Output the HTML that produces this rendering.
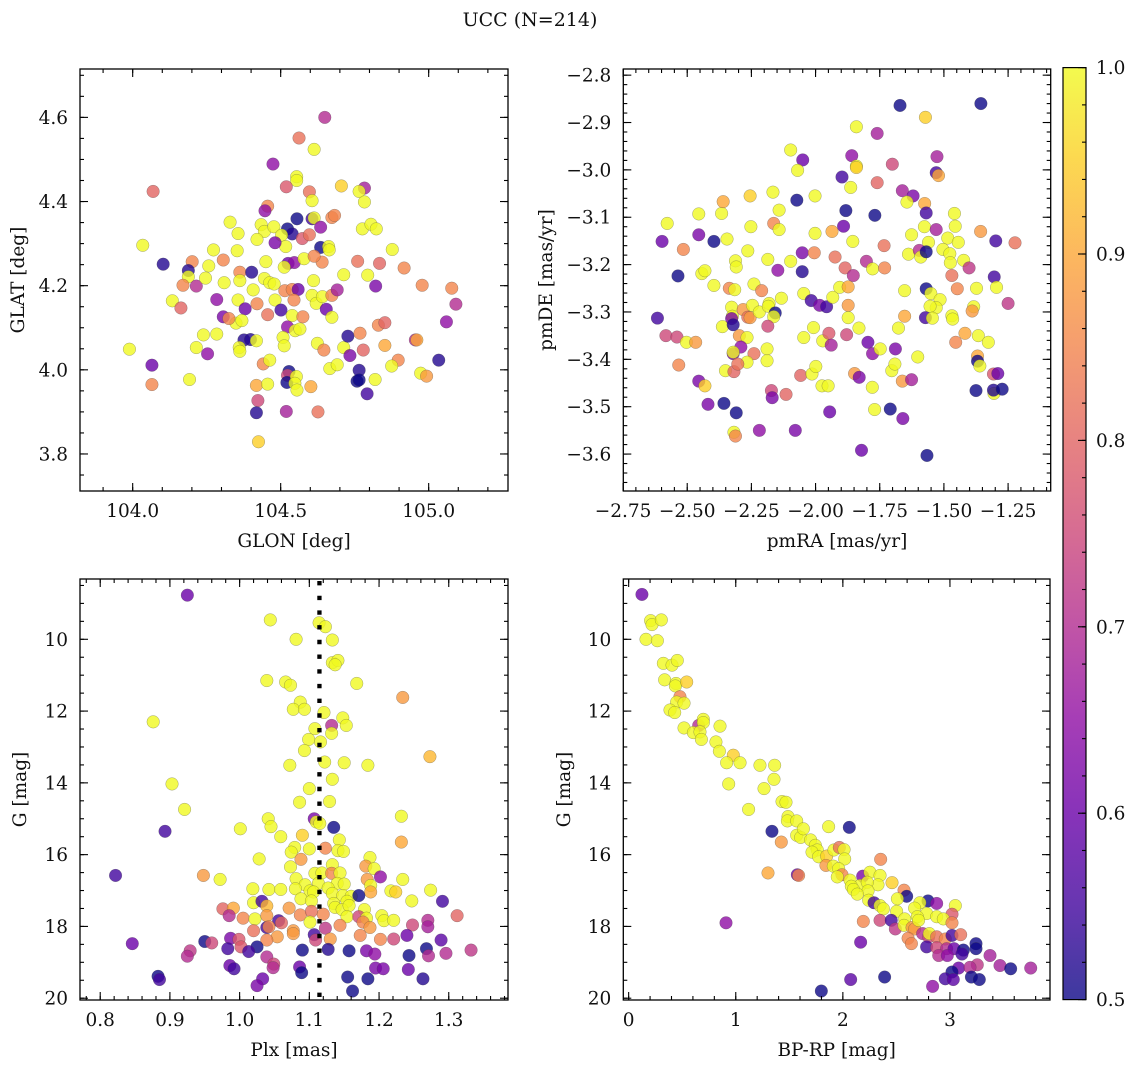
<!DOCTYPE html>
<html><head><meta charset="utf-8"><title>UCC (N=214)</title>
<style>
html,body{margin:0;padding:0;background:#fff;}
svg{display:block;}
text{font-family:"DejaVu Serif","Liberation Serif",serif;fill:#111;}
</style></head>
<body>
<svg id="fig" width="1136" height="1067" viewBox="0 0 1136 1067" xmlns="http://www.w3.org/2000/svg">
<defs>
<linearGradient id="plasmaGrad" x1="0" y1="1" x2="0" y2="0">
<stop offset="0" stop-color="#0d0887"/><stop offset="0.1" stop-color="#41049d"/><stop offset="0.2" stop-color="#6a00a8"/><stop offset="0.3" stop-color="#8f0da4"/><stop offset="0.4" stop-color="#b12a90"/><stop offset="0.5" stop-color="#cc4778"/><stop offset="0.6" stop-color="#e16462"/><stop offset="0.7" stop-color="#f2844b"/><stop offset="0.8" stop-color="#fca636"/><stop offset="0.9" stop-color="#fcce25"/><stop offset="1" stop-color="#f0f921"/>
</linearGradient>
</defs>
<text x="530" y="26" font-size="19" text-anchor="middle">UCC (N=214)</text>
</svg>
<script>
// ---- Panel 1: GLON / GLAT ----
const p1Lon=[104.649,104.562,104.613,104.474,104.554,104.554,104.069,104.519,104.597,104.705,
104.783,104.765,104.606,104.783,104.456,104.447,104.329,104.555,104.606,104.613,
104.434,104.445,104.477,104.356,104.420,104.635,104.673,104.682,104.776,104.805,
104.823,104.523,104.539,104.503,104.517,104.573,104.597,104.034,104.273,104.353,
104.481,104.635,104.662,104.664,104.877,104.103,104.201,104.188,104.257,104.306,
104.450,104.525,104.546,104.579,104.640,104.613,104.760,104.834,104.917,104.188,
104.215,104.170,104.246,104.309,104.362,104.402,104.362,104.445,104.463,104.478,
104.512,104.611,104.713,104.794,104.821,104.978,105.078,105.092,105.060,104.134,
104.163,104.284,104.306,104.356,104.380,104.407,104.420,104.456,104.481,104.501,
104.514,104.539,104.559,104.545,104.606,104.620,104.641,104.654,104.673,104.691,
104.673,104.349,104.369,104.325,104.539,104.575,104.523,104.549,104.565,104.239,
104.284,104.376,104.398,104.418,104.360,104.362,104.215,104.253,104.508,104.512,
104.624,104.646,104.713,104.727,104.734,104.768,104.779,104.830,104.852,104.852,
104.955,104.960,104.897,104.875,105.034,103.989,104.065,104.065,104.192,104.441,
104.463,104.528,104.523,104.521,104.553,104.548,104.555,104.418,104.456,104.602,
104.666,104.691,104.765,104.758,104.765,104.819,104.792,104.973,104.993,104.423,
104.418,104.519,104.626,104.425];
const p1Lat=[4.600,4.551,4.524,4.489,4.459,4.450,4.424,4.435,4.423,4.437,
4.432,4.424,4.402,4.399,4.389,4.378,4.351,4.359,4.359,4.361,
4.345,4.329,4.340,4.324,4.310,4.339,4.362,4.367,4.335,4.346,
4.335,4.335,4.323,4.320,4.293,4.312,4.321,4.296,4.285,4.283,
4.302,4.291,4.293,4.285,4.286,4.251,4.257,4.236,4.247,4.261,
4.257,4.253,4.255,4.264,4.256,4.270,4.258,4.253,4.242,4.221,
4.199,4.201,4.218,4.207,4.232,4.232,4.212,4.217,4.207,4.204,
4.244,4.212,4.226,4.225,4.199,4.201,4.194,4.156,4.114,4.164,
4.147,4.167,4.126,4.166,4.145,4.190,4.157,4.131,4.166,4.142,
4.188,4.191,4.191,4.166,4.177,4.158,4.174,4.144,4.177,4.190,
4.125,4.111,4.117,4.122,4.129,4.126,4.102,4.093,4.097,4.083,
4.085,4.071,4.072,4.069,4.053,4.044,4.053,4.038,4.077,4.057,
4.063,4.047,4.053,4.080,4.034,4.087,4.047,4.106,4.112,4.058,
4.071,4.071,4.023,4.009,4.023,4.049,4.011,3.965,3.977,4.014,
4.023,3.996,3.987,3.970,3.984,3.968,3.952,3.963,3.966,3.960,
4.003,4.012,3.999,3.973,3.976,3.977,3.943,3.992,3.985,3.927,
3.898,3.901,3.900,3.829];
const p1Prob=[.7,.82,1,.65,1,1,.8,.78,.82,.95,
.68,1,1,1,.85,.65,1,.5,.55,1,
1,1,1,1,1,.65,.85,.85,1,1,
1,.5,.52,1,1,.78,.82,1,1,1,
.62,.5,1,1,1,.52,.85,.52,1,.85,
1,.6,.65,1,.85,.85,.82,.8,.85,1,
.7,.85,1,1,.85,.52,1,1,1,1,
1,1,1,1,.62,.85,.85,.7,.65,1,
.8,.65,.62,1,.6,1,.85,.82,1,.55,
.85,.85,.6,.85,1,1,1,.6,.85,.68,
1,1,1,.85,1,.85,.65,1,1,1,
1,.52,.52,1,1,1,1,.65,1,1,
1,.85,1,.52,.62,.85,.8,.85,.8,.9,
.7,.9,.85,1,.52,1,.6,.85,1,.85,
1,.5,.75,.5,1,1,1,.9,1,.9,
1,1,.52,.5,.5,1,.55,1,.88,.75,
.52,.68,.82,.95];

// ---- Panel 2: pmRA / pmDE ----
const p2PmRA=[-1.671,-1.356,-1.572,-1.841,-1.760,-2.097,-2.050,-1.859,-1.701,-1.527,
-2.070,-1.841,-1.841,-1.530,-1.521,-1.897,-1.760,-1.863,-1.662,-1.620,
-1.644,-1.575,-1.569,-2.366,-2.360,-2.255,-2.166,-2.142,-2.073,-2.002,
-1.882,-1.769,-2.455,-2.578,-2.598,-2.455,-2.396,-2.515,-2.345,-2.252,
-2.163,-2.142,-2.002,-1.936,-1.891,-1.855,-1.733,-1.626,-1.576,-1.530,
-1.560,-1.485,-1.456,-1.459,-1.444,-1.357,-1.298,-1.223,-2.264,-2.186,
-2.147,-2.097,-2.052,-2.052,-2.005,-1.924,-1.802,-1.778,-1.731,-1.885,
-1.853,-1.638,-1.596,-1.590,-1.569,-1.504,-1.477,-1.475,-1.423,-1.402,
-1.469,-1.448,-1.373,-1.304,-1.295,-1.250,-2.536,-2.443,-2.431,-2.396,
-2.336,-2.315,-2.312,-2.309,-2.240,-2.210,-2.181,-2.133,-2.046,-2.017,
-1.984,-1.957,-1.933,-1.906,-1.873,-1.873,-1.653,-1.569,-1.551,-1.515,
-1.530,-1.554,-1.384,-1.390,-2.616,-2.583,-2.540,-2.503,-2.467,-2.533,
-2.363,-2.327,-2.324,-2.327,-2.321,-2.282,-2.264,-2.255,-2.246,-2.219,
-2.184,-2.157,-2.163,-2.186,-2.297,-2.267,-2.291,-2.321,-2.321,-2.240,
-2.189,-2.189,-2.267,-2.351,-2.318,-2.303,-2.008,-2.046,-1.972,-1.948,
-1.939,-1.879,-1.831,-1.873,-1.796,-1.778,-1.748,-1.689,-1.677,-1.653,
-1.602,-1.572,-1.545,-1.469,-1.466,-1.454,-1.418,-1.366,-1.327,-1.369,
-1.369,-1.360,-1.307,-1.290,-1.305,-1.307,-1.273,-1.375,-2.455,-2.431,
-2.419,-2.357,-2.309,-2.318,-2.312,-2.219,-2.172,-2.169,-2.115,-2.058,
-2.014,-1.999,-1.975,-1.951,-2.079,-1.945,-1.848,-1.830,-1.779,-1.770,
-1.709,-1.703,-1.691,-1.662,-1.626,-1.660,-1.821,-1.566];
const p2PmDE=[-2.864,-2.860,-2.889,-2.909,-2.923,-2.958,-2.979,-2.970,-2.988,-2.972,
-3.001,-2.992,-2.995,-3.006,-3.012,-3.015,-3.027,-3.037,-3.044,-3.055,
-3.068,-3.071,-3.091,-3.092,-3.067,-3.055,-3.047,-3.085,-3.064,-3.055,
-3.086,-3.096,-3.093,-3.113,-3.151,-3.137,-3.151,-3.168,-3.146,-3.120,
-3.113,-3.126,-3.134,-3.130,-3.119,-3.151,-3.160,-3.137,-3.120,-3.126,
-3.153,-3.144,-3.119,-3.092,-3.153,-3.130,-3.150,-3.154,-3.171,-3.189,
-3.212,-3.193,-3.175,-3.215,-3.175,-3.184,-3.193,-3.209,-3.207,-3.207,
-3.223,-3.178,-3.170,-3.184,-3.173,-3.168,-3.177,-3.196,-3.191,-3.207,
-3.223,-3.251,-3.250,-3.226,-3.248,-3.282,-3.224,-3.219,-3.213,-3.244,
-3.250,-3.253,-3.192,-3.205,-3.241,-3.255,-3.282,-3.271,-3.261,-3.276,
-3.286,-3.289,-3.269,-3.248,-3.247,-3.286,-3.255,-3.251,-3.261,-3.274,
-3.291,-3.288,-3.289,-3.298,-3.313,-3.350,-3.353,-3.364,-3.364,-3.412,
-3.331,-3.290,-3.309,-3.314,-3.327,-3.295,-3.311,-3.312,-3.286,-3.300,
-3.288,-3.302,-3.310,-3.330,-3.350,-3.354,-3.374,-3.388,-3.385,-3.388,
-3.378,-3.403,-3.406,-3.424,-3.426,-3.410,-3.333,-3.354,-3.361,-3.345,
-3.370,-3.348,-3.334,-3.312,-3.364,-3.388,-3.378,-3.378,-3.334,-3.309,
-3.395,-3.312,-3.313,-3.308,-3.315,-3.364,-3.345,-3.350,-3.364,-3.393,
-3.404,-3.414,-3.431,-3.430,-3.472,-3.465,-3.463,-3.466,-3.446,-3.456,
-3.495,-3.493,-3.513,-3.554,-3.562,-3.550,-3.466,-3.481,-3.474,-3.434,
-3.431,-3.415,-3.456,-3.456,-3.550,-3.511,-3.430,-3.438,-3.459,-3.506,
-3.505,-3.424,-3.410,-3.446,-3.443,-3.525,-3.592,-3.603];
const p2Prob=[.5,.5,.95,1,.68,1,.6,.65,.75,.68,
1,1,.95,.55,.9,.55,.8,1,.68,.62,
1,.9,.55,1,.9,.95,1,1,.5,1,
.5,.5,1,1,.6,.62,.5,.85,1,1,
.85,1,1,.9,.6,1,.82,1,1,.68,
1,1,1,1,1,.88,.55,.82,1,1,
.65,1,.62,.52,.85,.82,.7,1,.85,.8,
.7,1,.7,1,.5,1,1,1,1,.72,
.82,.85,1,.55,1,.72,.5,1,1,1,
.85,1,1,1,1,.85,1,1,1,.55,
.62,.55,1,1,.9,.88,1,.5,1,1,
1,1,1,.88,.55,.75,.75,1,.88,.85,
1,1,1,.62,.52,.88,.82,.88,1,1,
1,.5,1,.75,.88,1,.65,.62,1,.82,
1,1,1,1,.8,.82,1,1,1,.78,
.68,.75,1,1,.6,.65,1,.62,1,.9,
1,.55,1,1,1,.85,.9,1,1,.9,
.5,1,.78,.6,1,.52,.5,.5,.62,.95,
.62,.5,.5,1,.85,.65,.75,.62,.8,.8,
1,1,1,1,.62,.6,.88,.62,1,1,
.5,1,1,.88,.68,.62,.6,.5];

// ---- Panel 3: Plx / G ----
const p3Plx=[0.925,1.044,1.114,1.123,1.081,1.133,1.133,1.141,1.137,1.039,
1.066,1.073,1.168,1.234,0.876,1.087,1.077,1.093,1.121,1.148,
1.153,1.132,1.132,1.108,1.116,1.099,1.093,1.122,1.072,1.150,
1.184,1.273,0.903,1.133,1.100,1.086,1.129,0.921,1.041,1.045,
1.107,1.110,1.115,1.232,1.001,1.135,0.893,1.059,1.090,1.143,
1.232,1.079,1.074,1.100,1.123,1.141,1.149,1.028,1.088,1.187,
1.181,1.073,1.133,1.193,0.822,0.948,0.972,1.108,1.118,1.132,
1.144,1.202,1.234,1.183,1.081,1.094,1.113,1.140,1.150,1.188,
1.019,1.042,1.059,1.080,1.101,1.106,1.127,1.133,1.148,1.160,
1.188,1.217,1.224,1.274,1.171,1.291,1.020,1.088,1.103,1.135,
1.154,1.247,1.032,1.039,1.137,1.147,1.157,0.976,0.991,1.071,
1.179,0.985,1.005,1.022,1.039,1.087,1.103,1.120,1.154,1.171,
1.182,1.204,1.207,1.221,1.312,1.177,1.101,1.056,1.060,1.039,
1.042,1.123,1.144,1.187,1.248,1.270,1.270,1.020,1.077,1.077,
1.054,1.173,1.107,1.109,1.130,1.039,1.202,1.221,1.240,1.289,
0.846,0.950,0.960,0.987,0.999,1.002,1.025,0.983,1.013,1.090,
1.127,1.157,1.182,1.194,1.268,1.243,1.271,1.296,1.332,0.929,
0.925,1.039,1.049,1.048,0.986,0.992,1.086,1.089,1.195,1.206,
1.242,1.155,1.184,1.263,0.883,0.885,1.033,1.025,1.162];
const p3G=[8.77,9.46,9.54,9.65,10.0,10.02,10.65,10.59,10.71,11.15,
11.19,11.28,11.23,11.62,12.30,11.75,11.95,11.95,12.04,12.19,
12.40,12.40,12.62,12.49,12.86,12.79,13.10,13.42,13.51,13.44,
13.51,13.27,14.03,13.90,14.16,14.54,14.52,14.74,15.00,15.22,
15.00,15.09,15.13,14.93,15.28,15.24,15.35,15.50,15.46,15.59,
15.65,15.80,15.93,15.84,15.82,15.89,15.91,16.12,16.13,16.08,
16.32,16.34,16.28,16.39,16.58,16.58,16.69,16.52,16.51,16.52,
16.51,16.62,16.69,16.69,16.67,16.84,16.80,16.80,16.82,16.86,
16.95,16.97,16.97,16.95,17.01,17.04,16.93,17.08,17.14,17.16,
17.04,17.01,17.04,16.99,17.14,17.30,17.34,17.23,17.29,17.36,
17.30,17.29,17.30,17.43,17.47,17.53,17.42,17.51,17.49,17.49,
17.53,17.70,17.77,17.79,17.70,17.68,17.58,17.66,17.73,17.73,
17.77,17.70,17.84,17.83,17.70,17.88,17.88,17.84,17.90,18.03,
18.01,18.05,17.97,18.03,17.96,17.83,18.01,18.12,18.12,18.20,
18.29,18.25,18.23,18.38,18.35,18.38,18.36,18.35,18.25,18.38,
18.48,18.42,18.46,18.33,18.36,18.57,18.57,18.62,18.70,18.66,
18.64,18.68,18.68,18.77,18.62,18.81,18.82,18.75,18.66,18.68,
18.83,18.85,19.05,19.15,19.09,19.18,19.13,19.29,19.16,19.18,
19.20,19.41,19.46,19.46,19.39,19.48,19.46,19.65,19.80];
const p3Prob=[.6,1,1,1,1,1,1,1,1,1,
1,1,1,.88,1,1,1,1,1,1,
1,.7,1,1,1,1,1,1,1,1,
1,.92,1,1,1,1,1,1,1,1,
.62,1,1,1,1,.5,.55,1,.95,1,
.9,1,1,1,.85,1,1,1,.88,1,
.88,1,1,1,.55,.88,1,1,1,.85,
1,.65,1,.88,1,1,1,1,1,1,
1,1,1,1,1,1,1,1,1,1,
.9,1,.95,1,.5,.55,1,1,1,1,
1,1,.55,.92,1,1,1,.8,.9,.88,
1,.7,.85,1,.88,.85,.82,.85,1,.75,
1,1,1,1,.8,.85,1,.55,.8,.55,
.85,.72,.85,.88,.75,.7,.68,.82,.88,.88,
.88,.85,.55,.75,.88,.85,.85,.75,.6,.58,
.6,.5,.75,.62,.78,.78,.5,.55,.55,.5,
.52,.5,.62,.65,.5,.5,.7,.7,.72,.72,
.7,.7,.75,.7,.6,.55,.6,.5,.62,.62,
.6,.5,.5,.52,.5,.55,.6,.62,.5];
const p3PlxLine=[1.1145];

// ---- Panel 4: BP-RP / G ----
const p4BPRP=[0.124,0.205,0.218,0.305,0.162,0.268,0.324,0.405,0.454,0.336,
0.442,0.436,0.542,0.479,0.448,0.517,0.386,0.430,0.654,0.697,
0.697,0.517,0.604,0.666,0.679,0.815,0.853,0.847,0.977,0.915,
1.040,0.934,1.226,1.363,1.264,1.357,1.120,1.432,1.469,1.488,
1.482,1.569,1.338,1.425,1.867,2.060,1.569,1.606,1.631,1.699,
1.743,1.761,1.712,1.774,1.849,1.842,1.917,1.967,2.011,2.017,
1.911,1.961,1.992,1.948,2.353,1.301,1.575,1.587,2.185,2.067,
2.253,2.347,2.160,2.079,2.328,2.228,2.459,2.098,2.235,2.135,
2.571,2.596,2.241,2.291,2.509,2.795,2.876,2.719,3.050,2.347,
2.378,2.670,2.502,2.782,3.019,2.347,2.191,2.452,2.577,2.695,
2.876,2.938,3.019,2.490,2.571,2.646,2.670,2.707,2.745,2.801,
2.807,2.876,2.956,3.019,3.100,2.609,2.640,2.166,2.782,2.876,
2.969,3.038,3.125,3.243,3.243,2.895,2.975,3.112,3.374,3.255,
3.467,3.567,3.754,3.081,3.187,3.019,2.956,3.031,3.200,3.274,
2.838,2.390,2.073,1.799,0.909];
const p4G=[8.75,9.48,9.59,9.46,10.0,10.04,10.67,10.72,10.59,11.13,
11.23,11.30,11.19,11.60,11.75,11.78,11.97,12.04,12.40,12.23,
12.32,12.47,12.60,12.58,12.79,12.86,12.42,13.12,13.23,13.44,
13.44,14.03,13.51,13.51,14.16,13.90,14.74,14.52,14.54,14.94,
15.06,15.06,15.35,15.65,15.22,15.24,15.46,15.52,15.28,15.59,
15.74,15.87,15.93,16.06,16.04,16.30,15.87,15.80,15.86,16.12,
16.32,16.39,16.56,16.62,16.13,16.51,16.56,16.58,16.60,16.71,
16.49,16.58,16.86,16.88,16.84,16.77,16.78,16.97,17.01,17.10,
16.99,17.16,17.27,17.34,17.23,17.29,17.36,17.34,17.42,17.42,
17.51,17.49,17.58,17.64,17.66,17.83,17.86,17.83,17.79,17.73,
17.73,17.79,17.90,18.07,17.97,18.03,18.07,17.83,18.20,18.29,
18.20,18.29,18.35,18.25,18.23,18.33,18.48,18.44,18.57,18.59,
18.62,18.62,18.66,18.48,18.62,18.81,18.81,18.77,18.81,19.07,
19.09,19.18,19.16,19.16,19.14,19.27,19.46,19.48,19.41,19.48,
19.67,19.41,19.48,19.80,17.90];
const p4Prob=[.6,1,1,1,1,1,1,1,1,1,
1,1,.95,.85,1,1,1,1,.7,1,
1,1,1,1,1,1,1,1,.95,1,
1,1,1,1,1,1,1,1,1,1,
1,1,.5,.88,1,.5,1,1,1,1,
1,1,1,1,.95,.88,1,.82,1,1,
1,1,.85,1,.85,.9,.6,.85,.62,1,
1,1,1,1,1,1,.95,1,1,1,
.85,.5,1,.55,1,.5,.65,1,1,1,
1,1,1,1,.78,.75,.85,.55,1,1,
1,1,.85,.72,1,.88,.88,1,.7,.75,
1,.82,.85,.55,.82,.85,.85,.6,.55,.75,
.7,.6,.5,.5,.5,.7,.65,.55,.68,.72,
.68,.5,.68,.6,.7,.5,.55,.58,.5,.5,
.65,.5,.58,.5,.65];

// ---- Colorbar ----
const cbTicks=[0.5,0.6,0.7,0.8,0.9,1.0];
const cbRange=[0.5,1.0];

const NS="http://www.w3.org/2000/svg";
const svg=document.getElementById('fig');
const FS=18.5;
function mk(tag,attrs,parent){const e=document.createElementNS(NS,tag);for(const k in attrs)e.setAttribute(k,attrs[k]);(parent||svg).appendChild(e);return e;}

const stops=[[13,8,135],[65,4,157],[106,0,168],[143,13,164],[177,42,144],[204,71,120],[225,100,98],[242,132,75],[252,166,54],[252,206,37],[240,249,33]];
function plasma(v){let t=(v-cbRange[0])/(cbRange[1]-cbRange[0]);t=Math.max(0,Math.min(1,t));const s=t*10,i=Math.min(9,Math.floor(s)),f=s-i;const a=stops[i],b=stops[i+1];return 'rgb('+a.map((c,k)=>Math.round(c+(b[k]-c)*f)).join(',')+')';}
function fmt(v,d){const s=Math.abs(v).toFixed(d);return (v<-1e-9?'\u2212':'')+s;}
function range(a,b,st){const out=[];const n=Math.round((b-a)/st);for(let i=0;i<=n;i++)out.push(+(a+i*st).toFixed(6));return out;}

function panel(cfg){
  const g=mk('g',{});
  
  
  const sx=v=>cfg.x0+(v-cfg.xd[0])/(cfg.xd[1]-cfg.xd[0])*(cfg.x1-cfg.x0);
  const sy=v=>cfg.y1-(v-cfg.yd[0])/(cfg.yd[1]-cfg.yd[0])*(cfg.y1-cfg.y0);
  const clipId='clip-'+cfg.name;
  const cp=mk('clipPath',{id:clipId},g);
  mk('rect',{x:cfg.x0,y:cfg.y0,width:cfg.x1-cfg.x0,height:cfg.y1-cfg.y0},cp);
  const pts=mk('g',{'clip-path':'url(#'+clipId+')'},g);
  
  
  const n=Math.min(cfg.xs.length,cfg.ys.length,cfg.cs.length);
  for(let i=0;i<n;i++){
    const c=mk('circle',{cx:sx(cfg.xs[i]).toFixed(2),cy:sy(cfg.ys[i]).toFixed(2),r:6.3,fill:plasma(cfg.cs[i]),'fill-opacity':0.8,stroke:'#444','stroke-width':0.4,'stroke-opacity':0.6},pts);
    
    
  }
  if(cfg.vline){
    for(const v of cfg.vline){
      const l=mk('line',{x1:sx(v),x2:sx(v),y1:cfg.y0+2,y2:cfg.y1,stroke:'#000','stroke-width':4.3,'stroke-dasharray':'4.4 10.3'},pts);
      
      
    }
  }
  const tk=mk('g',{stroke:'#000','stroke-width':1.1},g);
  
  
  const inX=v=>{const p=sx(v);return p>=cfg.x0-0.5&&p<=cfg.x1+0.5;};
  const inY=v=>{const p=sy(v);return p>=cfg.y0-0.5&&p<=cfg.y1+0.5;};
  for(const v of cfg.xminor){if(!inX(v))continue;const p=sx(v);mk('line',{x1:p,x2:p,y1:cfg.y1,y2:cfg.y1-4},tk);mk('line',{x1:p,x2:p,y1:cfg.y0,y2:cfg.y0+4},tk);}
  for(const v of cfg.yminor){if(!inY(v))continue;const p=sy(v);mk('line',{x1:cfg.x0,x2:cfg.x0+4,y1:p,y2:p},tk);mk('line',{x1:cfg.x1,x2:cfg.x1-4,y1:p,y2:p},tk);}
  for(const v of cfg.xmajor){if(!inX(v))continue;const p=sx(v);mk('line',{x1:p,x2:p,y1:cfg.y1,y2:cfg.y1-8},tk);mk('line',{x1:p,x2:p,y1:cfg.y0,y2:cfg.y0+8},tk);
    const t=mk('text',{x:p,y:cfg.y1+26,'font-size':FS,'text-anchor':'middle',stroke:'none'},g);t.textContent=fmt(v,cfg.xdec);
    
    }
  for(const v of cfg.ymajor){if(!inY(v))continue;const p=sy(v);mk('line',{x1:cfg.x0,x2:cfg.x0+8,y1:p,y2:p},tk);mk('line',{x1:cfg.x1,x2:cfg.x1-8,y1:p,y2:p},tk);
    const t=mk('text',{x:cfg.x0-12,y:p+6.5,'font-size':FS,'text-anchor':'end',stroke:'none'},g);t.textContent=fmt(v,cfg.ydec);
    
    }
  const fr=mk('rect',{x:cfg.x0,y:cfg.y0,width:cfg.x1-cfg.x0,height:cfg.y1-cfg.y0,fill:'none',stroke:'#000','stroke-width':1.3},g);
  
  
  const xl=mk('text',{x:(cfg.x0+cfg.x1)/2,y:cfg.y1+56,'font-size':FS,'text-anchor':'middle'},g);xl.textContent=cfg.xlabel;
  
  
  const yc=(cfg.y0+cfg.y1)/2;
  const yl=mk('text',{x:cfg.ylx,y:yc,'font-size':FS,'text-anchor':'middle',transform:'rotate(-90 '+cfg.ylx+' '+yc+')'},g);yl.textContent=cfg.ylabel;
  
  
}

panel({name:'glon-glat-panel',x0:80,x1:508,y0:69,y1:491,xd:[103.822,105.268],yd:[3.712,4.715],xs:p1Lon,ys:p1Lat,cs:p1Prob,
  xmajor:range(104,105,0.5),xminor:range(103.9,105.2,0.1),ymajor:range(3.8,4.6,0.2),yminor:range(3.75,4.7,0.05),xdec:1,ydec:1,
  xlabel:'GLON [deg]',ylabel:'GLAT [deg]',ylx:24});
panel({name:'pm-panel',x0:623.3,x1:1050.7,y0:69,y1:491,xd:[-2.749,-1.084],yd:[-3.678,-2.787],xs:p2PmRA,ys:p2PmDE,cs:p2Prob,
  xmajor:range(-2.75,-1.25,0.25),xminor:range(-2.75,-1.1,0.05),ymajor:range(-3.6,-2.8,0.1),yminor:range(-3.66,-2.8,0.02),xdec:2,ydec:1,
  xlabel:'pmRA [mas/yr]',ylabel:'pmDE [mas/yr]',ylx:552});
panel({name:'plx-g-panel',x0:80,x1:508,y0:579,y1:1000,xd:[0.771,1.385],yd:[20.05,8.32],xs:p3Plx,ys:p3G,cs:p3Prob,vline:p3PlxLine,
  xmajor:range(0.8,1.3,0.1),xminor:range(0.78,1.38,0.02),ymajor:range(10,20,2),yminor:range(8.5,20,0.5),xdec:1,ydec:0,
  xlabel:'Plx [mas]',ylabel:'G [mag]',ylx:26});
panel({name:'cmd-panel',x0:623.3,x1:1050,y0:579,y1:1000,xd:[-0.05,3.934],yd:[20.05,8.32],xs:p4BPRP,ys:p4G,cs:p4Prob,
  xmajor:range(0,3,1),xminor:range(0,3.8,0.2),ymajor:range(10,20,2),yminor:range(8.5,20,0.5),xdec:0,ydec:0,
  xlabel:'BP-RP [mag]',ylabel:'G [mag]',ylx:570});

(function(){
  const x0=1063,x1=1086,yT=67.6,yB=999.6;
  const g=mk('g',{});
  
  
  const sy=v=>yB-(v-cbRange[0])/(cbRange[1]-cbRange[0])*(yB-yT);
  mk('rect',{x:x0,y:yT,width:x1-x0,height:yB-yT,fill:'url(#plasmaGrad)','fill-opacity':0.8},g);
  const tk=mk('g',{stroke:'#000','stroke-width':1.1},g);
  for(const v of range(0.5,1.0,0.02)){const p=sy(v);mk('line',{x1:x1,x2:x1-4,y1:p,y2:p},tk);}
  for(const v of cbTicks){const p=sy(v);mk('line',{x1:x1,x2:x1-8,y1:p,y2:p},tk);
    const t=mk('text',{x:x1+10,y:p+6.5,'font-size':FS},g);t.textContent=v.toFixed(1);
    
    }
  const fr=mk('rect',{x:x0,y:yT,width:x1-x0,height:yB-yT,fill:'none',stroke:'#000','stroke-width':1.2},g);
  
  
})();
</script>
</body></html>
